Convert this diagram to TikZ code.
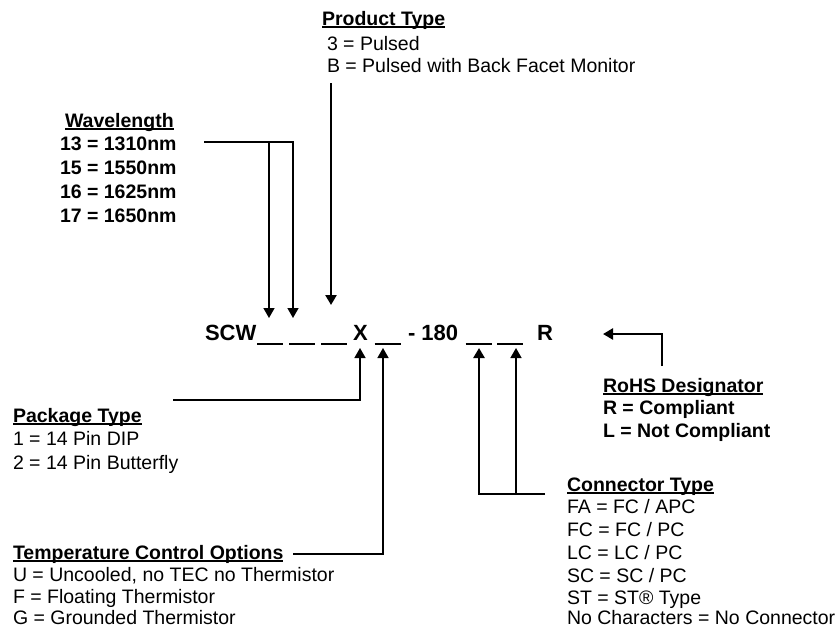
\documentclass[tikz,border=0pt]{standalone}
\usepackage{fontspec}
\setmainfont{Liberation Sans}
\usetikzlibrary{arrows.meta}
\newcommand\hdul[1]{\setbox0\hbox{#1}\copy0\llap{\rule[-3pt]{\wd0}{2pt}}}
\tikzset{
  base/.style={anchor=base west, inner sep=0pt, outer sep=0pt},
  hd/.style={base, font=\fontsize{19.5}{23}\selectfont\bfseries},
  itm/.style={base, font=\fontsize{19.5}{23}\selectfont},
  itmb/.style={base, font=\fontsize{19.5}{23}\selectfont\bfseries},
  codetxt/.style={base, font=\fontsize{22}{26}\selectfont\bfseries},
  blank/.style={minimum width=26pt, minimum height=0pt, inner sep=0pt, outer sep=0pt},
  blankline/.style={line width=1.6pt},
  thinl/.style={line width=1.5pt},
  thickl/.style={line width=2.6pt},
  arr/.style={-{Triangle[width=11pt,length=10pt]}}
}
\begin{document}
\begin{tikzpicture}[x=1pt,y=-1pt]
\useasboundingbox (0,0) rectangle (840,629);
% Product Type
\node[hd] (pt) at (322,25) {\hdul{Product Type}};
\node[itm] (pt1) at (327,50) {3 = Pulsed};
\node[itm] (pt2) at (327,72) {B = Pulsed with Back Facet Monitor};
% Wavelength
\node[hd] (wl) at (65,127) {\hdul{Wavelength}};
\node[itmb] (wl1) at (60,150) {13 = 1310nm};
\node[itmb] (wl2) at (60,174) {15 = 1550nm};
\node[itmb] (wl3) at (60,198) {16 = 1625nm};
\node[itmb] (wl4) at (60,222) {17 = 1650nm};
% Package Type
\node[hd] (pk) at (13,422) {\hdul{Package Type}};
\node[itm] (pk1) at (13,445) {1 = 14 Pin DIP};
\node[itm] (pk2) at (13,469) {2 = 14 Pin Butterfly};
% Temperature Control
\node[hd] (tc) at (13,559) {\hdul{Temperature Control Options}};
\node[itm] (tc1) at (13,581) {U = Uncooled, no TEC no Thermistor};
\node[itm] (tc2) at (13,603) {F = Floating Thermistor};
\node[itm] (tc3) at (13,624) {G = Grounded Thermistor};
% RoHS
\node[hd] (rh) at (603,392) {\hdul{RoHS Designator}};
\node[itmb] (rh1) at (603,414) {R = Compliant};
\node[itmb] (rh2) at (603,437) {L = Not Compliant};
% Connector Type
\node[hd] (ct) at (567,491) {\hdul{Connector Type}};
\node[itm] (ct1) at (567,513) {FA = FC / APC};
\node[itm] (ct2) at (567,536) {FC = FC / PC};
\node[itm] (ct3) at (567,559) {LC = LC / PC};
\node[itm] (ct4) at (567,582) {SC = SC / PC};
\node[itm] (ct5) at (567,604) {ST = ST\textregistered{} Type};
\node[itm] (ct6) at (567,624) {No Characters = No Connector};
% Part number line
\node[codetxt] (scw) at (205,340) {SCW};
\node[codetxt] (xx) at (353,340) {X};
\node[codetxt] (num) at (408,340) {- 180};
\node[codetxt] (rr) at (537,340) {R};
\node[blank] (b1) at (270,344) {};
\node[blank] (b2) at (302,344) {};
\node[blank] (b3) at (334,344) {};
\node[blank] (b4) at (387.5,344) {};
\node[blank] (b5) at (478.5,344) {};
\node[blank] (b6) at (510,344) {};
\foreach \b in {b1,b2,b3,b4,b5,b6} \draw[blankline] (\b.west) -- (\b.east);
% connector coordinates
\coordinate (wlS) at (204,142);
\coordinate (w1) at (269,318);
\coordinate (w2) at (293,318);
\coordinate (pS) at (331,83);
\coordinate (pE) at (331,305);
\coordinate (pkS) at (173,400);
\coordinate (xT) at (360,348);
\coordinate (tcS) at (293,554);
\coordinate (b4T) at (383,348);
\coordinate (ctS) at (545,494);
\coordinate (b5T) at (479,348);
\coordinate (b6T) at (516,348);
\coordinate (rhS) at (662,366);
\coordinate (rT) at (603,334);
% connectors
\draw[thinl,arr] (wlS) -| (w2);
\draw[thinl,arr] (w1 |- wlS) -- (w1);
\draw[thickl,arr] (pS) -- (pE);
\draw[thinl,arr] (pkS) -| (xT);
\draw[thinl,arr] (tcS) -| (b4T);
\draw[thickl,arr] (ctS) -| (b5T);
\draw[thinl,arr] (b6T |- ctS) -- (b6T);
\draw[thickl,arr] (rhS) |- (rT);
\end{tikzpicture}
\end{document}
